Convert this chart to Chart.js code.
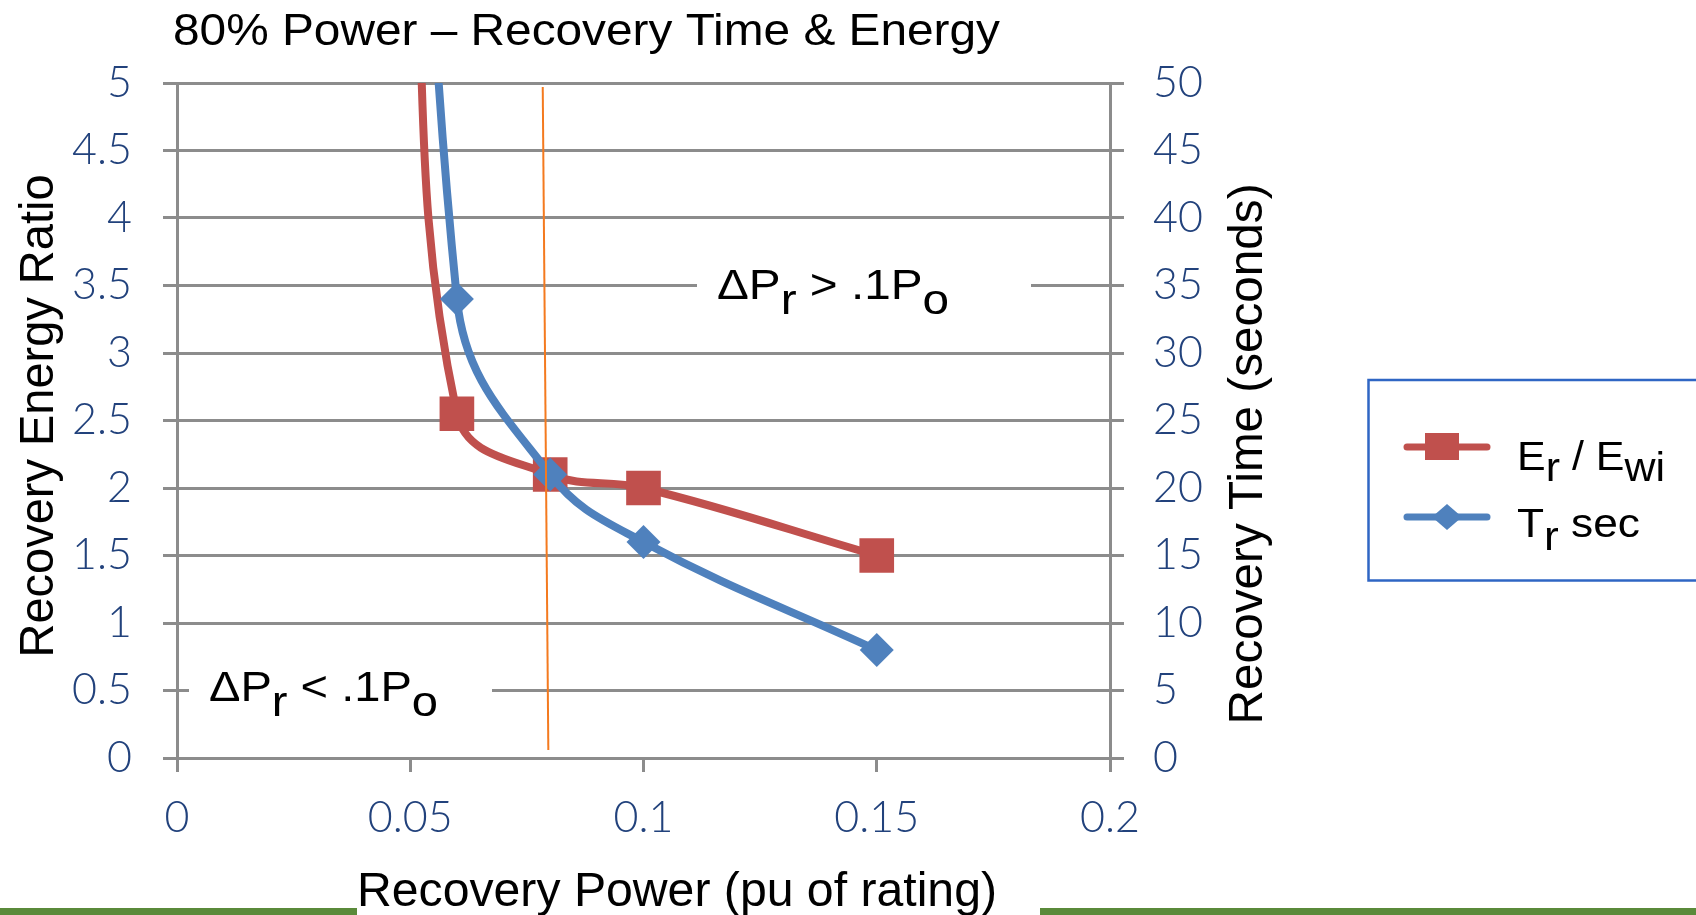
<!DOCTYPE html>
<html>
<head>
<meta charset="utf-8">
<title>80% Power – Recovery Time & Energy</title>
<script src="https://cdn.jsdelivr.net/npm/chart.js@4.4.1/dist/chart.umd.min.js"></script>
<style>
  html, body { margin: 0; padding: 0; background: #fff; }
  canvas { display: block; }
</style>
</head>
<body>
<canvas id="recoveryChart" width="1696" height="915"></canvas>
<script>
// Recovery power (pu of rating) and the two measured responses
const powerPu = [0.05, 0.06, 0.08, 0.10, 0.15];
const energyRatio = [7.0, 2.55, 2.1, 2.0, 1.5];      // Er / Ewi
const recoveryTimeSec = [125, 34, 21, 16, 8];         // Tr sec

// hand-drawn cutoff marker near 0.08 pu
const cutoffPower = [0.0784, 0.0796];
const cutoffRatio = [4.97, 0.06];

const powerTicks = [0, 0.05, 0.1, 0.15, 0.2];
const ratioTicks = [0, 0.5, 1, 1.5, 2, 2.5, 3, 3.5, 4, 4.5, 5];
const timeTicks = [0, 5, 10, 15, 20, 25, 30, 35, 40, 45, 50];

const RED = '#C0504D';
const BLUE = '#4F81BD';
const GRID = '#8C8C8C';
const TICK_TEXT = '#22427C';
const TEXT_FONT = '"Liberation Sans", Arial, sans-serif';

function toPoints(xs, ys) {
    return xs.map((x, i) => ({ x, y: ys[i] }));
}

// draws a row of text runs (subscripts dropped below the baseline), squeezed to a width
function drawRuns(ctx, runs, opts) {
    const { x, y, size, width, color = '#000', rotate = false, center = false, drop = 0.3 } = opts;
    ctx.save();
    ctx.font = `${size}px ${TEXT_FONT}`;
    ctx.fillStyle = color;
    ctx.textAlign = 'left';
    ctx.textBaseline = 'alphabetic';
    const widths = runs.map(r => ctx.measureText(r.text).width);
    const natural = widths.reduce((a, b) => a + b, 0);
    ctx.translate(x, y);
    if (rotate) ctx.rotate(-Math.PI / 2);
    ctx.scale(width ? width / natural : 1, 1);
    let cx = center ? -natural / 2 : 0;
    runs.forEach((r, i) => {
        ctx.fillText(r.text, cx, r.sub ? size * drop : 0);
        cx += widths[i];
    });
    ctx.restore();
}

const decorations = {
    id: 'decorations',
    beforeDraw(chart) {
        const ctx = chart.ctx;
        ctx.save();
        ctx.fillStyle = '#fff';
        ctx.fillRect(0, 0, chart.width, chart.height);
        ctx.restore();
    },
    beforeDatasetsDraw(chart) {
        const ctx = chart.ctx;
        const yScale = chart.scales.y;
        const upper = yScale.getPixelForValue(3.5);
        const lower = yScale.getPixelForValue(0.5);
        ctx.save();
        ctx.fillStyle = '#fff';
        ctx.fillRect(697, upper - 4, 334, 8);
        ctx.fillRect(189, lower - 4, 303, 8);
        ctx.restore();

        drawRuns(ctx, [{ text: '\u0394P' }, { text: 'r', sub: true }, { text: ' > .1P' }, { text: 'o', sub: true }],
            { x: 717, y: upper + 13, size: 42, width: 232, drop: 0.36 });
        drawRuns(ctx, [{ text: '\u0394P' }, { text: 'r', sub: true }, { text: ' < .1P' }, { text: 'o', sub: true }],
            { x: 209, y: lower + 10, size: 42, width: 229, drop: 0.36 });
    },
    afterDraw(chart) {
        const ctx = chart.ctx;

        drawRuns(ctx, [{ text: '80% Power \u2013 Recovery Time & Energy' }],
            { x: 173, y: 45, size: 45, width: 827 });
        drawRuns(ctx, [{ text: 'Recovery Energy Ratio' }],
            { x: 53, y: 416, size: 48, width: 483, rotate: true, center: true });
        drawRuns(ctx, [{ text: 'Recovery Time (seconds)' }],
            { x: 1262, y: 454, size: 48, width: 541, rotate: true, center: true });

        // green rules along the bottom, broken by the x axis title
        ctx.save();
        ctx.fillStyle = '#5A8A3A';
        ctx.fillRect(0, 908, 357, 7);
        ctx.fillRect(1040, 908, 656, 7);
        ctx.restore();
        drawRuns(ctx, [{ text: 'Recovery Power (pu of rating)' }],
            { x: 357, y: 906, size: 48, width: 640 });

        // legend box
        ctx.save();
        ctx.fillStyle = '#fff';
        ctx.fillRect(1368, 380, 340, 201);
        ctx.strokeStyle = '#2F66C4';
        ctx.lineWidth = 2.5;
        ctx.strokeRect(1368.5, 380, 400, 200.5);

        ctx.lineCap = 'round';
        ctx.lineWidth = 7;
        ctx.strokeStyle = RED;
        ctx.beginPath();
        ctx.moveTo(1407, 447);
        ctx.lineTo(1487, 447);
        ctx.stroke();
        ctx.fillStyle = RED;
        ctx.fillRect(1425, 433, 34, 27);

        ctx.strokeStyle = BLUE;
        ctx.beginPath();
        ctx.moveTo(1407, 517);
        ctx.lineTo(1487, 517);
        ctx.stroke();
        ctx.fillStyle = BLUE;
        ctx.beginPath();
        ctx.moveTo(1432, 517);
        ctx.lineTo(1447, 504);
        ctx.lineTo(1462, 517);
        ctx.lineTo(1447, 530);
        ctx.closePath();
        ctx.fill();
        ctx.restore();

        drawRuns(ctx, [{ text: 'E' }, { text: 'r', sub: true }, { text: ' / E' }, { text: 'wi', sub: true }],
            { x: 1517, y: 470, size: 41, width: 148, drop: 0.28 });
        drawRuns(ctx, [{ text: 'T' }, { text: 'r', sub: true }, { text: ' sec' }],
            { x: 1517, y: 537, size: 41, width: 123, drop: 0.32 });
    }
};

const tickFont = { family: 'Lato, Roboto, sans-serif', size: 43, weight: 300 };

function axisGrid(onChart) {
    return {
        drawOnChartArea: onChart,
        drawTicks: true,
        tickLength: 14,
        color: GRID,
        lineWidth: 3
    };
}

const ctx = document.getElementById('recoveryChart').getContext('2d');

new Chart(ctx, {
    type: 'line',
    data: {
        datasets: [
            {
                label: 'cutoff',
                data: toPoints(cutoffPower, cutoffRatio),
                yAxisID: 'y',
                borderColor: '#F47A1F',
                borderWidth: 2,
                pointRadius: 0,
                tension: 0,
                order: 0
            },
            {
                label: 'Tr sec',
                data: toPoints(powerPu, recoveryTimeSec),
                yAxisID: 'y1',
                borderColor: BLUE,
                backgroundColor: BLUE,
                borderWidth: 8,
                borderCapStyle: 'round',
                borderJoinStyle: 'round',
                tension: 0.4,
                pointStyle: 'rectRot',
                pointRadius: 17,
                pointBorderWidth: 0,
                clip: 0,
                order: 1
            },
            {
                label: 'Er / Ewi',
                data: toPoints(powerPu, energyRatio),
                yAxisID: 'y',
                borderColor: RED,
                backgroundColor: RED,
                borderWidth: 8,
                borderCapStyle: 'round',
                borderJoinStyle: 'round',
                tension: 0.4,
                pointStyle: 'rect',
                pointRadius: 24.5,
                pointBorderWidth: 0,
                clip: 0,
                order: 2
            }
        ]
    },
    options: {
        responsive: false,
        devicePixelRatio: 1,
        animation: false,
        events: [],
        layout: { padding: { top: 83, left: 0, right: 0, bottom: 0 } },
        elements: { line: { capBezierPoints: false } },
        plugins: {
            legend: { display: false },
            title: { display: false },
            tooltip: { enabled: false }
        },
        scales: {
            x: {
                type: 'linear',
                min: 0,
                max: 0.2,
                afterBuildTicks: axis => { axis.ticks = powerTicks.map(value => ({ value })); },
                afterFit: axis => { axis.height = 157; },
                grid: axisGrid(false),
                border: { display: true, color: GRID, width: 3 },
                ticks: {
                    font: tickFont,
                    color: TICK_TEXT,
                    padding: 20,
                    maxRotation: 0,
                    callback: value => String(value)
                }
            },
            y: {
                position: 'left',
                min: 0,
                max: 5,
                afterBuildTicks: axis => { axis.ticks = ratioTicks.map(value => ({ value })); },
                afterFit: axis => { axis.width = 177; },
                grid: axisGrid(true),
                border: { display: true, color: GRID, width: 3 },
                ticks: {
                    font: tickFont,
                    color: TICK_TEXT,
                    padding: 31,
                    callback: value => String(value)
                }
            },
            y1: {
                position: 'right',
                min: 0,
                max: 50,
                afterBuildTicks: axis => { axis.ticks = timeTicks.map(value => ({ value })); },
                afterFit: axis => { axis.width = 586; },
                grid: axisGrid(false),
                border: { display: true, color: GRID, width: 3 },
                ticks: {
                    font: tickFont,
                    color: TICK_TEXT,
                    padding: 29,
                    callback: value => String(value)
                }
            }
        }
    },
    plugins: [decorations]
});
</script>
</body>
</html>
